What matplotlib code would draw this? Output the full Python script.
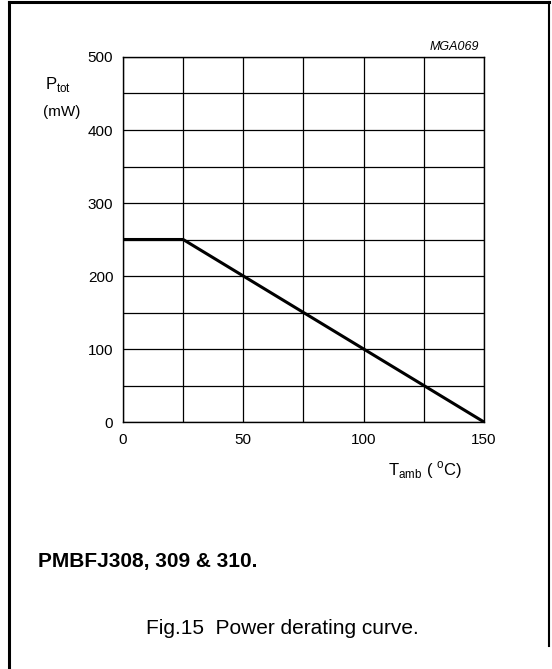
import matplotlib
matplotlib.use("Agg")
import matplotlib.pyplot as plt
import numpy as np

# derating curve points
T_amb = [0, 25, 150]
P_tot = [250, 250, 0]
x_ticks = [0, 50, 100, 150]
y_ticks = [0, 100, 200, 300, 400, 500]

plt.rcParams['font.family'] = ['Liberation Sans', 'DejaVu Sans']
plt.rcParams['mathtext.fontset'] = 'custom'
plt.rcParams['mathtext.rm'] = 'Liberation Sans'

fig = plt.figure(figsize=(5.52, 6.69), dpi=100)

# outer frame of the datasheet panel
fig.add_artist(plt.Line2D([0.017, 0.017], [0.0, 0.997], color='black', lw=2.2))
fig.add_artist(plt.Line2D([0.017, 0.995], [0.997, 0.997], color='black', lw=2.2))
fig.add_artist(plt.Line2D([0.995, 0.995], [0.035, 0.997], color='black', lw=1.5))

ax = fig.add_axes([0.2228, 0.3692, 0.654, 0.5456])
ax.set_xlim(0, 150)
ax.set_ylim(0, 500)
ax.set_xticks(np.arange(0, 151, 25))
ax.set_yticks(np.arange(0, 501, 50))
ax.grid(True, color='black', lw=0.9)
ax.set_xticklabels([str(t) if t in x_ticks else '' for t in np.arange(0, 151, 25)])
ax.set_yticklabels([str(t) if t in y_ticks else '' for t in np.arange(0, 501, 50)])
ax.tick_params(length=0, labelsize=11)
ax.tick_params(axis='x', pad=8)
ax.tick_params(axis='y', pad=7)
for s in ax.spines.values():
    s.set_linewidth(1.0)

ax.plot(T_amb, P_tot, color='black', lw=2.2, solid_capstyle='butt')

# labels
fig.text(45/552, 1-85/669, r'P$_{\rm tot}$', fontsize=12, ha='left', va='center')
fig.text(43/552, 1-112/669, '(mW)', fontsize=11, ha='left', va='center')
fig.text(454/552, 1-47/669, 'MGA069', fontsize=9, style='italic', ha='center', va='center')
fig.text(388/552, 1-475/669, r'T$_{\rm amb}$ ( $^{\rm o}$C)', fontsize=12, ha='left', va='baseline')
fig.text(38/552, 1-562/669, 'PMBFJ308, 309 & 310.', fontsize=15, weight='bold', ha='left', va='center')
fig.text(282/552, 1-629/669, 'Fig.15  Power derating curve.', fontsize=15, ha='center', va='center')

fig.savefig('out.png', dpi=100)
